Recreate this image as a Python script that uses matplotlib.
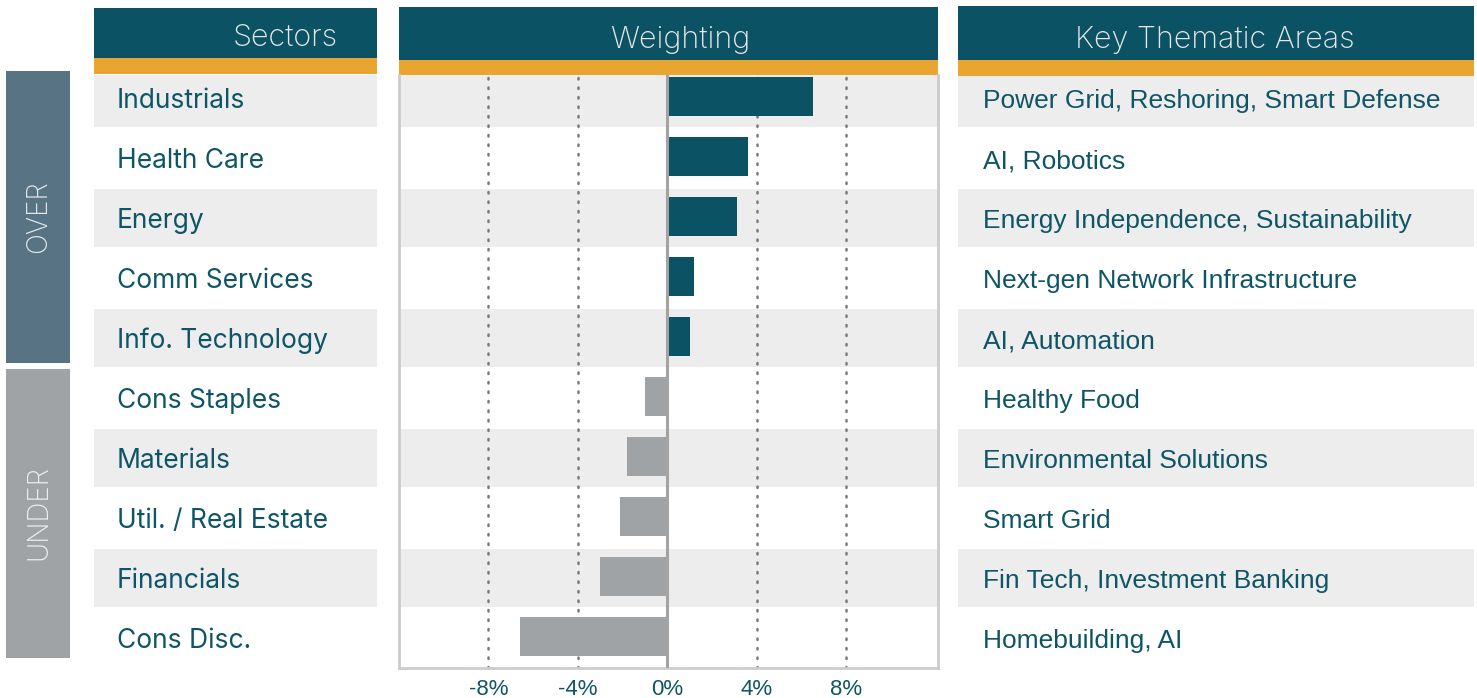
import matplotlib.pyplot as plt
from matplotlib.patches import Rectangle

# data
sectors = ['Industrials', 'Health Care', 'Energy', 'Comm Services', 'Info. Technology',
           'Cons Staples', 'Materials', 'Util. / Real Estate', 'Financials', 'Cons Disc.']
weights = [6.5, 3.6, 3.1, 1.2, 1.0, -1.0, -1.8, -2.1, -3.0, -6.6]
themes = ['Power Grid, Reshoring, Smart Defense', 'AI, Robotics',
          'Energy Independence, Sustainability', 'Next-gen Network Infrastructure',
          'AI, Automation', 'Healthy Food', 'Environmental Solutions', 'Smart Grid',
          'Fin Tech, Investment Banking', 'Homebuilding, AI']
ticks = [-8, -4, 0, 4, 8]
groups = ['OVER', 'UNDER']
headers = ['Sectors', 'Weighting', 'Key Thematic Areas']

# colours
TEAL = '#0a5264'
ORANGE = '#e8a631'
BAND = '#ededed'
TXT = '#0e5566'
OVER_C = '#587383'
UNDER_C = '#a0a3a6'
HEAD_TXT = '#e8e8e8'

W, H = 1477, 698
fig = plt.figure(figsize=(W / 100, H / 100), dpi=100)


def box(x0, y0, x1, y1):
    # pixel box (top-left origin) -> figure fraction
    return [x0 / W, 1 - y1 / H, (x1 - x0) / W, (y1 - y0) / H]


def rect(x0, y0, x1, y1, color):
    l, b, w, h = box(x0, y0, x1, y1)
    fig.add_artist(Rectangle((l, b), w, h, transform=fig.transFigure,
                             facecolor=color, edgecolor='none', zorder=0))


def ftext(x, y, s, **kw):
    fig.text(x / W, 1 - y / H, s, **kw)


# row geometry: row i centred at 98 + 60*i px, panels from y=75 to y=668
TOP, BOT = 75, 668
ylim = ((BOT - 98) / 60, (TOP - 98) / 60)
n = len(sectors)

# group boxes on the far left
rect(6, 71, 70, 363, OVER_C)
rect(6, 369, 70, 658, UNDER_C)
ftext(39, 217, groups[0], rotation=90, ha='center', va='center', color='#e4e8ea',
      fontsize=20, family='Inter', fontweight='light')
ftext(39, 513, groups[1], rotation=90, ha='center', va='center', color='#eceeef',
      fontsize=20, family='Inter', fontweight='light')

# headers
panels = [(94, 377, 8, 58, 74), (399, 938, 7, 60, 75), (958, 1474, 6, 60, 76)]
head_x = [285, 680, 1215]
for (x0, x1, t0, t1, t2), hx, name in zip(panels, head_x, headers):
    rect(x0, t0, x1, t1, TEAL)
    rect(x0, t1, x1, t2, ORANGE)
    ftext(hx, t1 - 12, name, ha='center', va='baseline', color=HEAD_TXT,
          fontsize=22, family='Inter', fontweight='light')

# left panel: sector names
axl = fig.add_axes(box(94, TOP, 377, BOT))
axl.set_xlim(0, 283)
axl.set_ylim(*ylim)
axl.axis('off')
for i, s in enumerate(sectors):
    if i % 2 == 0:
        axl.axhspan(i - 0.48, i + 0.48, color=BAND, lw=0)
    axl.text(23, i + 0.05, s, va='center', ha='left', color=TXT, fontsize=19, family='Inter')

# right panel: themes
axr = fig.add_axes(box(958, TOP + 1, 1474, BOT))
axr.set_xlim(0, 516)
axr.set_ylim((BOT - 98) / 60, (TOP + 1 - 98) / 60)
axr.axis('off')
for i, s in enumerate(themes):
    if i % 2 == 0:
        axr.axhspan(i - 0.48, i + 0.48, color=BAND, lw=0)
    axr.text(25, i + 0.05, s, va='center', ha='left', color=TXT, fontsize=19,
             family='Liberation Sans')

# middle panel: bars
ax = fig.add_axes(box(399, TOP, 938, BOT))
ax.set_xlim(-12, 12.1)
ax.set_ylim(*ylim)
for i in range(0, n, 2):
    ax.axhspan(i - 0.48, i + 0.48, color=BAND, lw=0, zorder=0)
for t in ticks:
    if t != 0:
        ax.axvline(t, color='#7a7a7a', lw=1.8, ls=(0, (0.6, 3.2)),
                   dash_capstyle='round', zorder=1)
colors = [TEAL if w > 0 else UNDER_C for w in weights]
ax.barh([i - 0.02 for i in range(n)], weights, height=0.65, color=colors, zorder=2)
ax.axvline(0, color='#a3a3a3', lw=2.2, zorder=3)

ax.set_yticks([])
ax.set_xticks(ticks)
ax.set_xticklabels([f'{t}%' for t in ticks], color=TXT, fontsize=16,
                   family='Liberation Sans')
ax.tick_params(axis='x', length=0, pad=8)
ax.spines['top'].set_visible(False)
for side in ['left', 'right', 'bottom']:
    ax.spines[side].set_color('#cccccc')
    ax.spines[side].set_linewidth(2)

fig.savefig('out.png', dpi=100)
